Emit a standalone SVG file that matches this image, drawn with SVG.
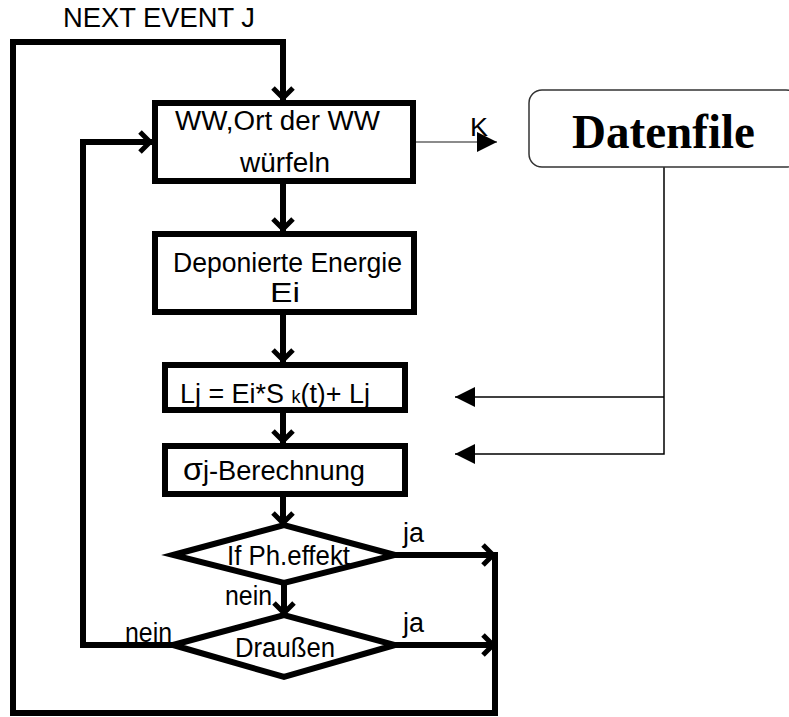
<svg xmlns="http://www.w3.org/2000/svg" width="789" height="717" viewBox="0 0 789 717">
<defs>
<style>
.box{fill:#fff;stroke:#000;stroke-width:6}
.flow{fill:none;stroke:#000;stroke-width:6;stroke-linejoin:miter;stroke-linecap:square}
.thin{fill:none;stroke:#000;stroke-width:1.5}
.grey{fill:none;stroke:#666;stroke-width:1.5}
.t{font-family:"Liberation Sans",Arial,sans-serif;font-size:27px;fill:#000}
.d{font-family:"Liberation Serif","Times New Roman",serif;font-size:48px;font-weight:bold;fill:#000}
</style>
<marker id="chev" markerUnits="userSpaceOnUse" viewBox="-14 -14 20 28" markerWidth="20" markerHeight="28" refX="0" refY="0" orient="auto" overflow="visible">
<path d="M-10,-10 L0,0 L-10,10" fill="none" stroke="#000" stroke-width="5"/>
</marker>
<marker id="tri" markerUnits="userSpaceOnUse" viewBox="-22 -11 24 22" markerWidth="24" markerHeight="22" refX="0" refY="0" orient="auto" overflow="visible">
<path d="M-20,-10 L0,0 L-20,10 Z" fill="#000"/>
</marker>
</defs>
<text class="t" x="63" y="27" textLength="192" lengthAdjust="spacingAndGlyphs">NEXT EVENT J</text>
<g id="connectors">
<path class="flow" d="M495,555 L495,713 L13,713 L13,42 L283,42 L283,98" marker-end="url(#chev)"/>
<path class="flow" d="M283,183 L283,229" marker-end="url(#chev)"/>
<path class="flow" d="M283,315 L283,360" marker-end="url(#chev)"/>
<path class="flow" d="M283,413 L283,441" marker-end="url(#chev)"/>
<path class="flow" d="M283,497 L283,523" marker-end="url(#chev)"/>
<path class="flow" d="M284,583 L284,613" marker-end="url(#chev)"/>
<path class="flow" d="M395,555 L493,555" marker-end="url(#chev)"/>
<path class="flow" d="M395,645 L493,645" marker-end="url(#chev)"/>
<path class="flow" d="M173,645 L83,645 L83,142 L150,142" marker-end="url(#chev)"/>
<path class="grey" d="M290,137 L290,142 L497,142" marker-end="url(#tri)"/>
<path class="thin" d="M664,167 L664,454 L455,454" marker-end="url(#tri)"/>
<path class="thin" d="M664,397 L455,397" marker-end="url(#tri)"/>
</g>
<g id="n1">
<rect class="box" x="155" y="103" width="258" height="78"/>
<text class="t" x="175" y="130" textLength="205" lengthAdjust="spacingAndGlyphs">WW,Ort der WW</text>
<text class="t" x="240" y="172" textLength="90" lengthAdjust="spacingAndGlyphs">würfeln</text>
</g>
<text class="t" x="470" y="136" textLength="18" lengthAdjust="spacingAndGlyphs" style="font-size:25px">K</text>
<g id="datenfile">
<rect x="529" y="90" width="270" height="77" rx="13" ry="13" fill="#fff" stroke="#333" stroke-width="1.5"/>
<text class="d" x="572" y="148" textLength="183" lengthAdjust="spacingAndGlyphs">Datenfile</text>
</g>
<g id="n2">
<rect class="box" x="155" y="234" width="259" height="78"/>
<text class="t" x="173" y="272" textLength="229" lengthAdjust="spacingAndGlyphs">Deponierte Energie</text>
<text class="t" x="270" y="302" textLength="30" lengthAdjust="spacingAndGlyphs">Ei</text>
</g>
<g id="n3">
<rect class="box" x="165" y="365" width="240" height="45"/>
<text class="t" x="180" y="403" textLength="190" lengthAdjust="spacingAndGlyphs">Lj = Ei*S <tspan font-size="18">k</tspan>(t)+ Lj</text>
</g>
<g id="n4">
<rect class="box" x="165" y="446" width="240" height="48"/>
<text class="t" x="183" y="480" textLength="182" lengthAdjust="spacingAndGlyphs"><tspan font-size="32">σ</tspan>j-Berechnung</text>
</g>
<g id="d1">
<polygon class="box" points="173,555 284,525 395,555 284,583"/>
<text class="t" x="227" y="565" textLength="123" lengthAdjust="spacingAndGlyphs">If Ph.effekt</text>
</g>
<g id="d2">
<polygon class="box" points="173,645 284,615 395,645 284,677"/>
<text class="t" x="235" y="657" textLength="100" lengthAdjust="spacingAndGlyphs">Draußen</text>
</g>
<text class="t" x="403" y="542" textLength="21" lengthAdjust="spacingAndGlyphs">ja</text>
<text class="t" x="403" y="632" textLength="21" lengthAdjust="spacingAndGlyphs">ja</text>
<text class="t" x="225" y="605" textLength="47" lengthAdjust="spacingAndGlyphs">nein</text>
<text class="t" x="125" y="642" textLength="47" lengthAdjust="spacingAndGlyphs">nein</text>
</svg>
